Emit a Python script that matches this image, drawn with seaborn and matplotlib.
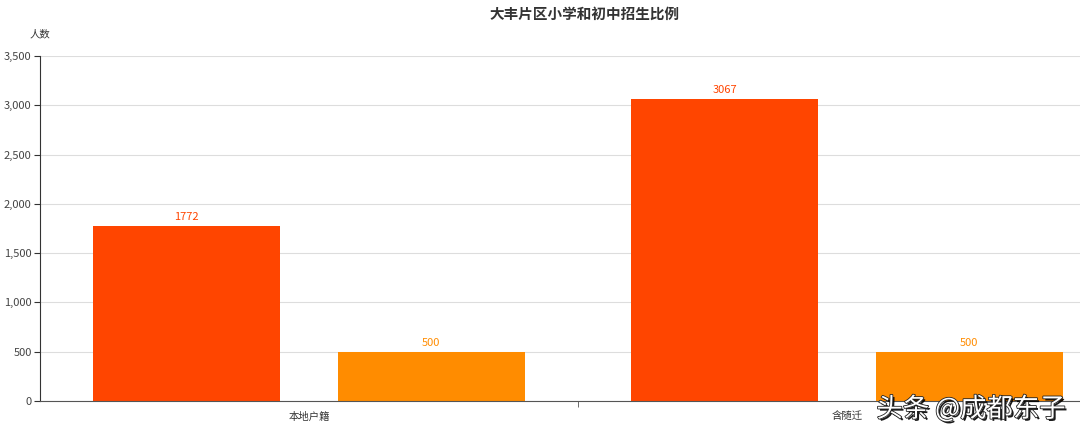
import matplotlib
matplotlib.use('Agg')
import matplotlib.pyplot as plt
import matplotlib.patheffects as pe
from matplotlib.ticker import FuncFormatter
import seaborn as sns
import pandas as pd

# data
categories = ['本地户籍', '含随迁']
series_names = ['小学', '初中']
primary = [1772, 3067]
middle = [500, 500]
colors = ['#FF4500', '#FF8C00']

df = pd.DataFrame({
    'cat': categories * 2,
    'series': [series_names[0]] * 2 + [series_names[1]] * 2,
    'value': primary + middle,
})

sns.set_style('white')
plt.rcParams['font.family'] = ['Noto Sans CJK SC', 'DejaVu Sans']

fig = plt.figure(figsize=(10.8, 4.37), dpi=100)
ax = fig.add_axes([40 / 1080, 36 / 437, 1076 / 1080, 345 / 437])

sns.barplot(data=df, x='cat', y='value', hue='series', palette=colors,
            width=0.91, gap=0.235, legend=False, ax=ax, saturation=1,
            linewidth=0, edgecolor='none')

for cont, col in zip(ax.containers, colors):
    ax.bar_label(cont, padding=3, color=col, fontsize=8)

ax.set_xlim(-0.5, 1.5)
ax.set_ylim(0, 3500)
ax.set_yticks(range(0, 3501, 500))
ax.yaxis.set_major_formatter(FuncFormatter(lambda v, p: f'{int(v):,}'))
ax.grid(axis='y', color='#dddddd', linewidth=0.8)
ax.set_axisbelow(True)
ax.set_xlabel('')
ax.set_ylabel('')

for s in ['top', 'right']:
    ax.spines[s].set_visible(False)
ax.spines['left'].set_color('#333333')
ax.spines['bottom'].set_color('#555555')

ax.tick_params(axis='y', left=True, length=4, color='#333333',
               labelsize=8, labelcolor='#444444', pad=2)
ax.tick_params(axis='x', bottom=False, labelsize=7.5, labelcolor='#333333', pad=4)
ax.set_xticks([0.5], minor=True)
ax.tick_params(axis='x', which='minor', bottom=True, length=4, color='#555555')

fig.text(585 / 1080, 1 - 14 / 437, '大丰片区小学和初中招生比例', ha='center', va='center',
         fontsize=10.5, fontweight='bold', color='#333333')
fig.text(40 / 1080, 1 - 34 / 437, '人数', ha='center', va='center',
         fontsize=7.5, color='#333333')

fig.text(971 / 1080, 1 - 409 / 437, '头条 @成都东子', ha='center', va='center',
         fontsize=19, color='white',
         path_effects=[pe.withSimplePatchShadow(offset=(1.5, -1.5), shadow_rgbFace='black', alpha=0.9),
                       pe.withStroke(linewidth=1.2, foreground='#222222')])

fig.savefig('out.png', dpi=100)
